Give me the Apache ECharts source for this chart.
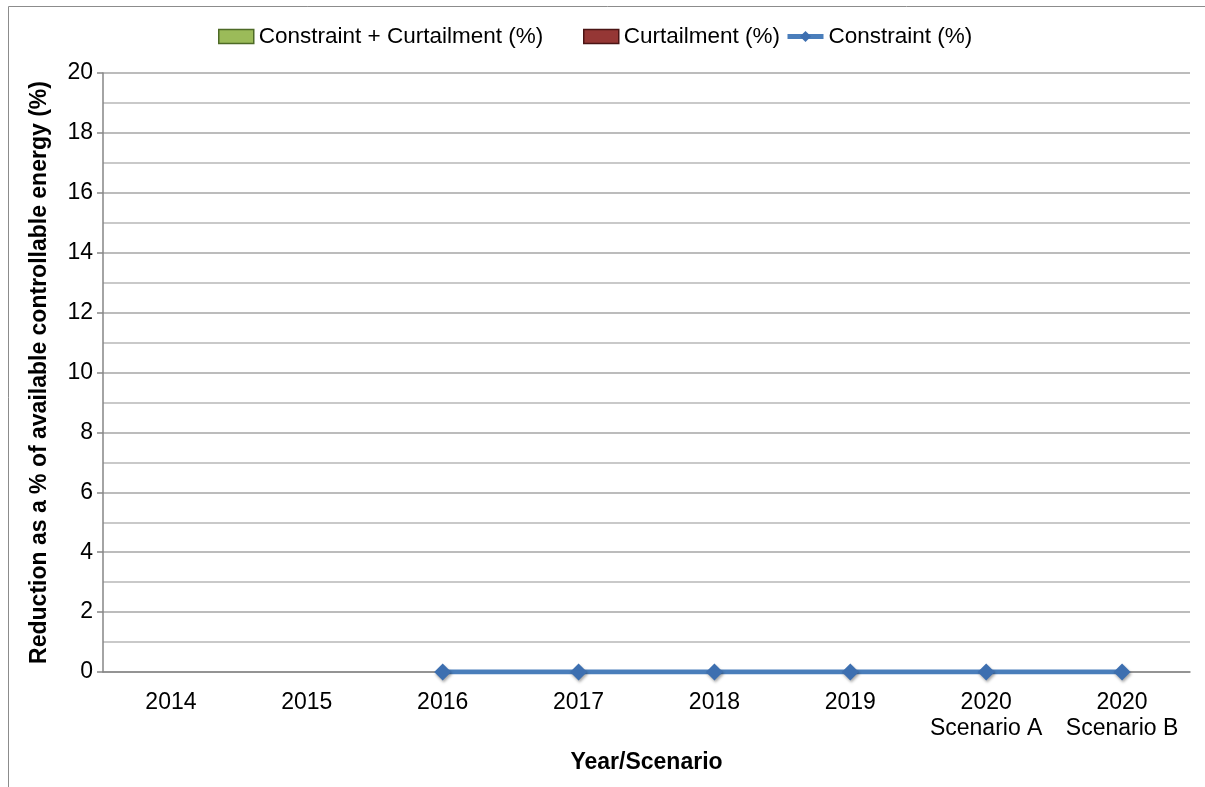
<!DOCTYPE html>
<html><head><meta charset="utf-8">
<script src="https://cdn.jsdelivr.net/npm/echarts@6/dist/echarts.min.js"></script>
<style>html,body{margin:0;padding:0;background:#fff}#c{width:1205px;height:787px}</style>
</head><body><div id="c"></div>
<script>
const categories = ['2014','2015','2016','2017','2018','2019','2020\nScenario A','2020\nScenario B'];
const constraintCurtailment = [null,null,0,0,0,0,0,0];
const curtailment = [null,null,0,0,0,0,0,0];
const constraint = [null,null,0,0,0,0,0,0];
const yTicks = [0,2,4,6,8,10,12,14,16,18,20];

const FONT = '"Liberation Sans", Arial, sans-serif';
const chart = echarts.init(document.getElementById('c'), null, {renderer:'canvas'});
const legendText = {fontFamily: FONT, fontSize: 22.5, color: '#000'};
chart.setOption({
  animation:false,
  backgroundColor:'#fff',
  graphic:[{type:'rect', shape:{x:8.5,y:6.5,width:1400,height:900}, style:{fill:'none', stroke:'#8c8c8c', lineWidth:1}, silent:true}],
  legend:[
    {left:218, top:25, itemWidth:35, itemHeight:14, itemGap:0, textStyle:legendText, padding:0, icon:'rect',
     data:[{name:'Constraint + Curtailment (%)', itemStyle:{borderColor:'#4d6a26', borderWidth:1.5}}]},
    {left:583, top:25, itemWidth:35, itemHeight:14, itemGap:0, textStyle:legendText, padding:0, icon:'rect',
     data:[{name:'Curtailment (%)', itemStyle:{borderColor:'#4a1414', borderWidth:1.5}}]},
    {left:785, top:25, itemWidth:36, itemHeight:14, itemGap:0, textStyle:legendText, padding:0,
     data:[{name:'Constraint (%)', lineStyle:{width:5}}]}
  ],
  grid:{left:103, right:15, top:73, bottom:115, containLabel:false},
  xAxis:{
    type:'category', data:categories, boundaryGap:true,
    name:'Year/Scenario', nameLocation:'middle', nameGap:79,
    nameTextStyle:{fontFamily:FONT, fontSize:23, fontWeight:'bold', color:'#000'},
    axisLine:{show:true, lineStyle:{color:'#868686', width:1.5}},
    axisTick:{show:false},
    axisLabel:{fontFamily:FONT, fontSize:23, color:'#000', margin:18, lineHeight:26, interval:0}
  },
  yAxis:{
    type:'value', min:0, max:20, interval:2,
    name:'Reduction as a % of available controllable energy (%)', nameLocation:'middle', nameGap:52,
    nameTextStyle:{fontFamily:FONT, fontSize:23, fontWeight:'bold', color:'#000'},
    axisLine:{show:true, lineStyle:{color:'#868686', width:1.5}},
    axisTick:{show:true, inside:false, length:6, lineStyle:{color:'#868686', width:1.5}},
    axisLabel:{fontFamily:FONT, fontSize:23, color:'#000', margin:10,
      formatter:function(v){return yTicks.indexOf(v)>=0?String(v):'';}},
    splitLine:{show:true, lineStyle:{color:'#a6a6a6', width:1.5}},
    minorTick:{show:false, splitNumber:2},
    minorSplitLine:{show:true, lineStyle:{color:'#b8b8b8', width:1.5}}
  },
  series:[
    {name:'Constraint + Curtailment (%)', type:'bar', data:constraintCurtailment, itemStyle:{color:'#9bbb59'}, barGap:'0%'},
    {name:'Curtailment (%)', type:'bar', data:curtailment, itemStyle:{color:'#953735'}},
    {name:'Constraint (%)', type:'line', data:constraint, symbol:'diamond', symbolSize:17, showSymbol:true,
     lineStyle:{color:'#4a7ebb', width:5}, itemStyle:{color:'#3d6fb0', shadowColor:'rgba(0,0,0,0.35)', shadowBlur:3, shadowOffsetX:1, shadowOffsetY:2},
     z:5}
  ]
});
</script>
</body></html>
